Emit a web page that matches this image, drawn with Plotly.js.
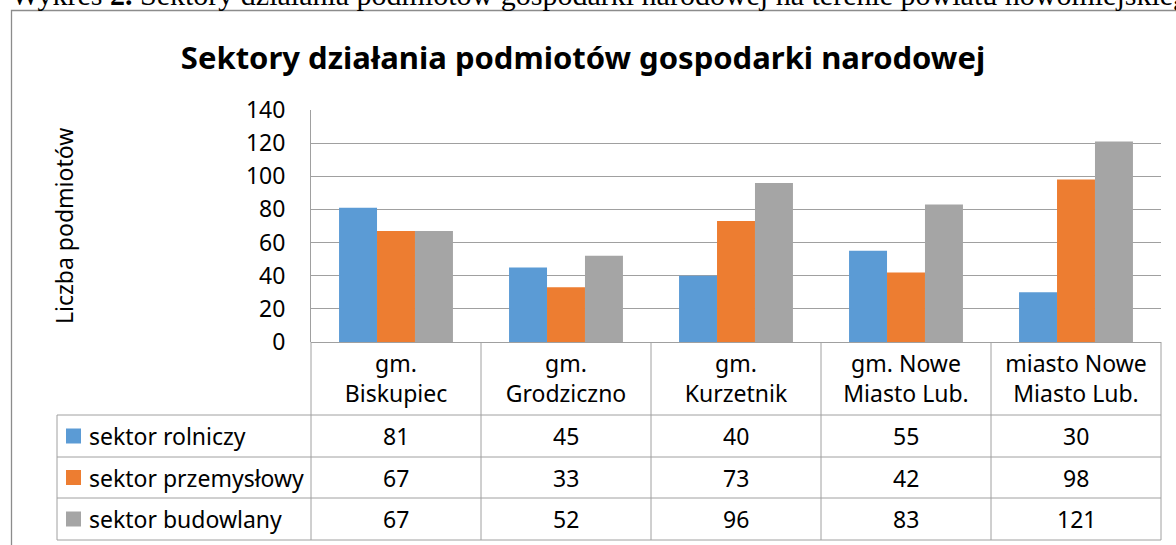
<!DOCTYPE html>
<html>
<head>
<meta charset="utf-8">
<script src="https://cdn.plot.ly/plotly-3.0.1.min.js"></script>
<style>html,body{margin:0;padding:0;background:#fff;}#chart{width:1176px;height:545px;}</style>
</head>
<body>
<div id="chart"></div>
<script>
// ---- data ----
const categories = ['gm. Biskupiec', 'gm. Grodziczno', 'gm. Kurzetnik', 'gm. Nowe Miasto Lub.', 'miasto Nowe Miasto Lub.'];
const categoryLabels = ['gm.<br>Biskupiec', 'gm.<br>Grodziczno', 'gm.<br>Kurzetnik', 'gm. Nowe<br>Miasto Lub.', 'miasto Nowe<br>Miasto Lub.'];
const seriesNames = ['sektor rolniczy', 'sektor przemysłowy', 'sektor budowlany'];
const sektorRolniczy = [81, 45, 40, 55, 30];
const sektorPrzemyslowy = [67, 33, 73, 42, 98];
const sektorBudowlany = [67, 52, 96, 83, 121];
const yTickVals = [0, 20, 40, 60, 80, 100, 120, 140];
const chartTitle = 'Sektory działania podmiotów gospodarki narodowej';
const yAxisTitle = 'Liczba podmiotów';
const captionText = 'Wykres <b>2.</b> Sektory działania podmiotów gospodarki narodowej na terenie powiatu nowomiejskiego';

// ---- styles ----
const seriesColors = ['#5B9BD5', '#ED7D31', '#A5A5A5'];
const seriesValues = [sektorRolniczy, sektorPrzemyslowy, sektorBudowlany];
const gridColor = '#A0A0A0';
const font = 'Noto Sans, Open Sans, sans-serif';
const W = 1176, H = 545;
const M = {l: 311, r: 15, t: 110, b: 203};
const plotW = W - M.l - M.r, plotH = H - M.t - M.b;
const px2x = p => (p - M.l) / plotW;
const px2y = p => (H - M.b - p) / plotH;

const traces = seriesNames.map((name, s) => ({
  type: 'bar', name: name, x: categories, y: seriesValues[s],
  marker: {color: seriesColors[s], line: {width: 0}},
  hoverinfo: 'x+y+name'
}));

// table geometry (px)
const rowLines = [415, 457, 498, 540];
const legendLeft = 57;
const n = categories.length;

const lineStyle = {color: gridColor, width: 1};
const shapes = [];
// vertical lines of table
for (let i = 0; i <= n; i++) {
  shapes.push({type: 'line', xref: 'paper', yref: 'paper', x0: i / n, x1: i / n, y0: 0, y1: px2y(rowLines[3]), line: lineStyle});
}
// horizontal lines of table
rowLines.forEach(r => shapes.push({type: 'line', xref: 'paper', yref: 'paper', x0: px2x(legendLeft), x1: 1, y0: px2y(r), y1: px2y(r), line: lineStyle}));
// legend column left line
shapes.push({type: 'line', xref: 'paper', yref: 'paper', x0: px2x(legendLeft), x1: px2x(legendLeft), y0: px2y(rowLines[0]), y1: px2y(rowLines[3]), line: lineStyle});
// outer frame
shapes.push({type: 'rect', xref: 'paper', yref: 'paper', x0: px2x(11.5), x1: px2x(1190), y0: px2y(10.5), y1: px2y(560), line: {color: '#8C8C8C', width: 1.3}, fillcolor: 'rgba(0,0,0,0)'});

const annotations = [];
seriesNames.forEach((name, s) => {
  const yc = (rowLines[s] + rowLines[s + 1]) / 2;
  // legend key square
  shapes.push({type: 'rect', xref: 'paper', yref: 'paper', x0: px2x(66), x1: px2x(81), y0: px2y(yc - 7.5), y1: px2y(yc + 7.5), line: {width: 0}, fillcolor: seriesColors[s]});
  annotations.push({xref: 'paper', yref: 'paper', x: px2x(87), y: px2y(yc), xanchor: 'left', yanchor: 'middle', showarrow: false, text: name, font: {family: font, size: 23, color: '#000'}});
  seriesValues[s].forEach((v, i) => {
    annotations.push({xref: 'x', yref: 'paper', x: categories[i], y: px2y(yc), xanchor: 'center', yanchor: 'middle', showarrow: false, text: String(v), font: {family: font, size: 23, color: '#000'}});
  });
});
// y axis title
annotations.push({xref: 'paper', yref: 'paper', x: px2x(64), y: 0.5, xanchor: 'center', yanchor: 'middle', textangle: -90, showarrow: false, text: yAxisTitle, font: {family: font, size: 23, color: '#000'}});
// caption above the chart (cut at top)
annotations.push({xref: 'paper', yref: 'paper', x: px2x(9), y: px2y(13), xanchor: 'left', yanchor: 'bottom', showarrow: false, text: captionText, font: {family: 'Liberation Serif, Times New Roman, serif', size: 30, color: '#000'}});

const layout = {
  width: W, height: H,
  margin: M,
  paper_bgcolor: '#fff', plot_bgcolor: '#fff',
  showlegend: false,
  barmode: 'group', bargap: 0.33, bargroupgap: 0,
  title: {text: chartTitle, font: {family: font, size: 31, color: '#000', weight: 'bold'}, xref: 'container', yref: 'container', x: 583 / W, xanchor: 'center', y: 1 - 58 / H, yanchor: 'middle'},
  xaxis: {type: 'category', tickvals: categories, ticktext: categoryLabels, ticks: '', showgrid: false, showline: false, zeroline: false, tickfont: {family: font, size: 23, color: '#000'}, ticklabelstandoff: 6, fixedrange: true},
  yaxis: {range: [0, 140], tickvals: yTickVals, ticks: '', showgrid: true, gridcolor: gridColor, gridwidth: 1, zeroline: true, zerolinecolor: gridColor, zerolinewidth: 1, showline: true, linecolor: gridColor, linewidth: 1, tickfont: {family: font, size: 23, color: '#000'}, ticklabelstandoff: 20, fixedrange: true},
  shapes: shapes,
  annotations: annotations
};

Plotly.newPlot('chart', traces, layout, {displayModeBar: false, staticPlot: true});
</script>
</body>
</html>
